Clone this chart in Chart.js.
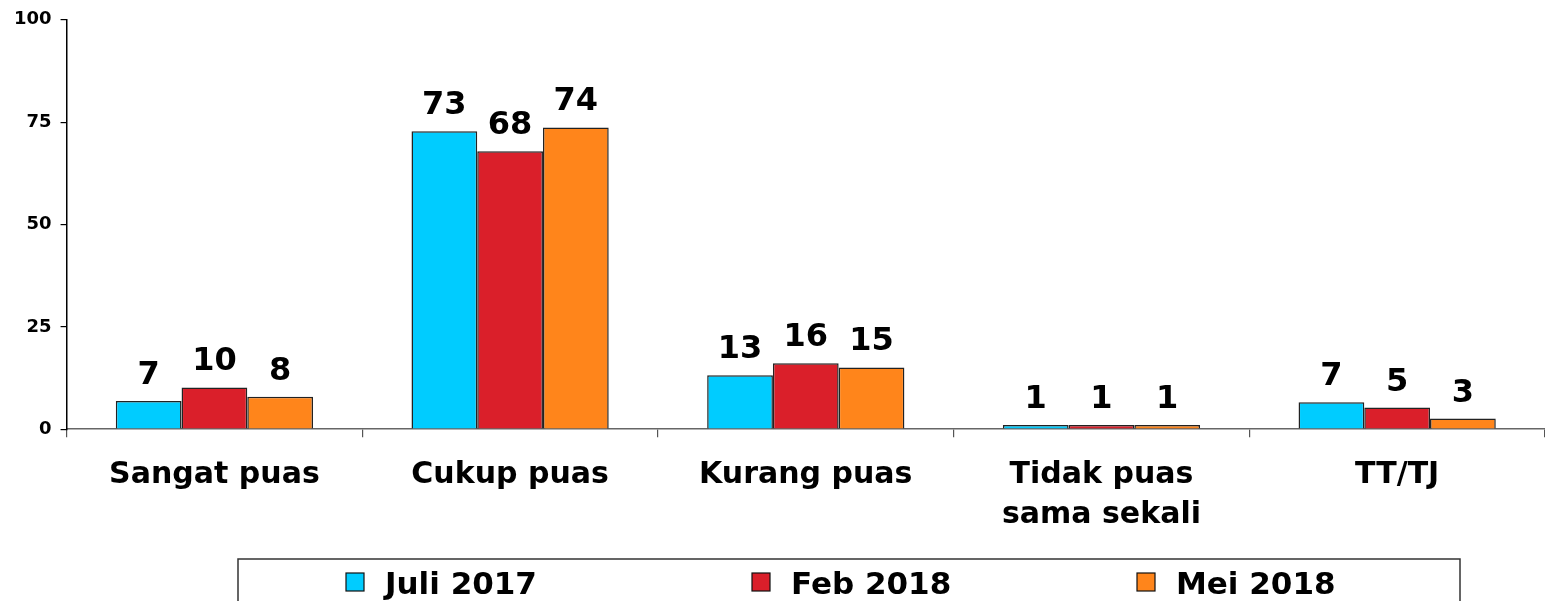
<!DOCTYPE html>
<html>
<head>
<meta charset="utf-8">
<script src="https://cdn.jsdelivr.net/npm/chart.js@4/dist/chart.umd.min.js"></script>
<style>
  body { margin: 0; background: #fff; }
</style>
</head>
<body>
<canvas id="chart" width="1545" height="601"></canvas>
<script>
// Kategori kepuasan
const categories = ['Sangat puas', 'Cukup puas', 'Kurang puas', ['Tidak puas', 'sama sekali'], 'TT/TJ'];

// Nilai tiap survei (persen)
const juli2017 = [6.9, 72.8, 13.2, 1.0, 6.6];
const feb2018 = [10.2, 67.9, 16.1, 1.0, 5.3];
const mei2018 = [7.9, 73.7, 15.1, 1.0, 2.6];

const seriesNames = ['Juli 2017', 'Feb 2018', 'Mei 2018'];
const seriesColors = ['#00CCFF', '#DA1F2A', '#FF851B'];

const yTicks = [0, 25, 50, 75, 100];

const FONT = "'DejaVu Sans', Verdana, sans-serif";

// Label angka di atas batang
const valueLabels = {
    id: 'valueLabels',
    afterDatasetsDraw(chart) {
        const c = chart.ctx;
        c.save();
        c.font = 'bold 32px ' + FONT;
        c.fillStyle = '#000';
        c.textAlign = 'center';
        c.textBaseline = 'alphabetic';
        chart.data.datasets.forEach((ds, i) => {
            chart.getDatasetMeta(i).data.forEach((bar, j) => {
                c.fillText(Math.round(ds.data[j]), bar.x, bar.y - 17);
            });
        });
        c.restore();
    }
};

// Legenda dengan kotak di bawah
const boxLegend = {
    id: 'boxLegend',
    afterDraw(chart) {
        const c = chart.ctx;
        c.save();
        c.strokeStyle = '#333';
        c.lineWidth = 1.5;
        c.strokeRect(238, 559, 1222, 60);
        const itemX = [346, 752, 1137];
        c.font = 'bold 31px ' + FONT;
        c.textBaseline = 'alphabetic';
        c.textAlign = 'left';
        chart.data.datasets.forEach((ds, i) => {
            c.fillStyle = ds.backgroundColor;
            c.fillRect(itemX[i], 573, 18, 18);
            c.strokeStyle = '#111';
            c.lineWidth = 1.2;
            c.strokeRect(itemX[i], 573, 18, 18);
            c.fillStyle = '#000';
            c.fillText(ds.label, itemX[i] + 39, 594);
        });
        c.restore();
    }
};

const ctx = document.getElementById('chart').getContext('2d');
new Chart(ctx, {
    type: 'bar',
    data: {
        labels: categories,
        datasets: [juli2017, feb2018, mei2018].map((d, i) => ({
            label: seriesNames[i],
            data: d,
            backgroundColor: seriesColors[i],
            borderColor: '#222',
            borderWidth: 1.5,
            categoryPercentage: 0.667,
            barPercentage: 1
        }))
    },
    options: {
        responsive: false,
        animation: false,
        layout: { padding: { top: 8, left: 5, right: 0, bottom: 48 } },
        plugins: {
            legend: { display: false },
            tooltip: { enabled: false }
        },
        scales: {
            x: {
                grid: {
                    offset: true,
                    drawOnChartArea: false,
                    tickLength: 8,
                    color: '#555',
                    lineWidth: 1.2
                },
                border: { color: '#666', width: 1.5 },
                ticks: {
                    color: '#000',
                    padding: 18,
                    font: { family: FONT, size: 30, weight: 'bold', lineHeight: 1.33 },
                    maxRotation: 0
                }
            },
            y: {
                min: 0,
                max: 100,
                afterBuildTicks: axis => { axis.ticks = yTicks.map(v => ({ value: v })); },
                grid: {
                    drawOnChartArea: false,
                    tickLength: 6,
                    color: '#000',
                    lineWidth: 1.2
                },
                border: { color: '#000', width: 1.5 },
                ticks: {
                    color: '#000',
                    padding: 9,
                    font: { family: FONT, size: 18, weight: 'bold' }
                }
            }
        }
    },
    plugins: [valueLabels, boxLegend]
});
</script>
</body>
</html>
